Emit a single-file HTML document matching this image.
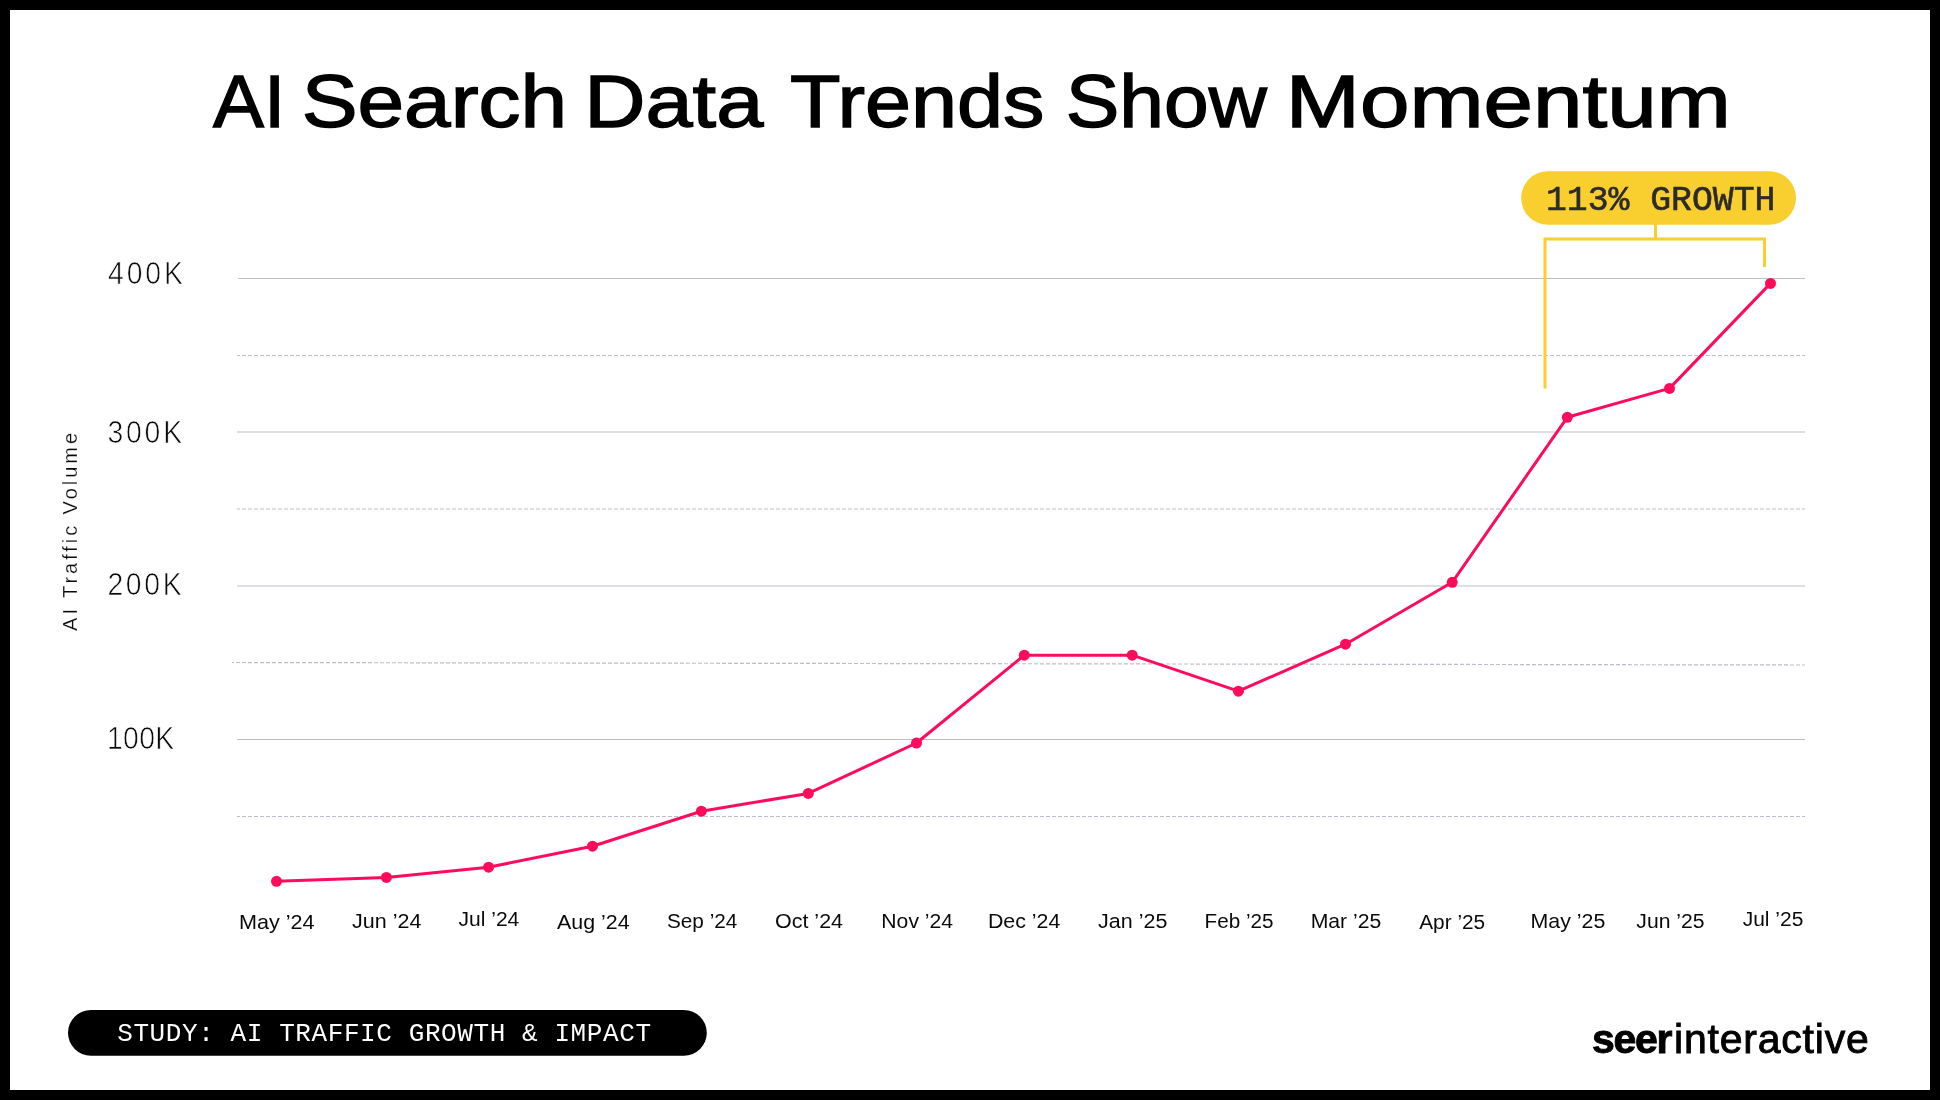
<!DOCTYPE html>
<html>
<head>
<meta charset="utf-8">
<style>
html,body{margin:0;padding:0;}
body{width:1940px;height:1100px;background:#000;position:relative;overflow:hidden;font-family:"Liberation Sans",sans-serif;}
svg{position:absolute;left:0;top:0;will-change:transform;}
</style>
</head>
<body>
<svg width="1940" height="1100" viewBox="0 0 1940 1100">
<rect x="10" y="10" width="1920" height="1080" fill="#fff"/>
<g stroke="#BDBDCB" stroke-width="1.2" fill="none">
<line x1="238" y1="278.5" x2="1805" y2="278.5"/>
<line x1="237" y1="432" x2="1805" y2="432"/>
<line x1="237" y1="586" x2="1805" y2="586"/>
<line x1="237" y1="739.5" x2="1805" y2="739.5"/>
</g>
<g stroke="#BDBDCB" stroke-width="1.2" fill="none" stroke-dasharray="4 2">
<line x1="237" y1="355.5" x2="1805" y2="355.5" stroke-dashoffset="1"/>
<line x1="237" y1="509" x2="1805" y2="509" stroke-dashoffset="1"/>
<line x1="232" y1="662.5" x2="1805" y2="665" stroke-dashoffset="2"/>
<line x1="237" y1="816.5" x2="1805" y2="816.5" stroke-dashoffset="1"/>
</g>
<rect x="1521.2" y="171.2" width="274.8" height="53.6" rx="26.8" fill="#F9CE2F"/>
<g stroke="#F9CE2F" stroke-width="3" fill="none">
<line x1="1655.5" y1="224" x2="1655.5" y2="239"/>
<polyline points="1545,388.6 1545,239 1764.5,239 1764.5,266.9"/>
</g>
<polyline fill="none" stroke="#FC0C5B" stroke-width="3" stroke-linejoin="round" points="276.5,881.3 386.4,877.4 488.6,867.2 592.5,846.2 701.4,811.2 808.3,793.4 916.5,743 1024.3,655.2 1132.2,655.2 1238.4,691.2 1345.5,644.2 1452.2,582.3 1567.3,417.3 1669.5,388.4 1770.5,283.4"/>
<g fill="#FC0C5B">
<circle cx="276.5" cy="881.3" r="5.5"/>
<circle cx="386.4" cy="877.4" r="5.5"/>
<circle cx="488.6" cy="867.2" r="5.5"/>
<circle cx="592.5" cy="846.2" r="5.5"/>
<circle cx="701.4" cy="811.2" r="5.5"/>
<circle cx="808.3" cy="793.4" r="5.5"/>
<circle cx="916.5" cy="743" r="5.5"/>
<circle cx="1024.3" cy="655.2" r="5.5"/>
<circle cx="1132.2" cy="655.2" r="5.5"/>
<circle cx="1238.4" cy="691.2" r="5.5"/>
<circle cx="1345.5" cy="644.2" r="5.5"/>
<circle cx="1452.2" cy="582.3" r="5.5"/>
<circle cx="1567.3" cy="417.3" r="5.5"/>
<circle cx="1669.5" cy="388.4" r="5.5"/>
<circle cx="1770.5" cy="283.4" r="5.5"/>
</g>
<rect x="68" y="1010" width="638.8" height="45.7" rx="22.85" fill="#000"/>
<text transform="translate(213.00,126.80) scale(1.0268,1)" font-family="Liberation Sans" font-size="74.5" font-weight="normal" fill="#000" stroke="#000" stroke-width="1.4">AI</text>
<text transform="translate(301.63,126.80) scale(1.1242,1)" font-family="Liberation Sans" font-size="74.5" font-weight="normal" fill="#000" stroke="#000" stroke-width="1.4">Search</text>
<text transform="translate(584.17,126.80) scale(1.1387,1)" font-family="Liberation Sans" font-size="74.5" font-weight="normal" fill="#000" stroke="#000" stroke-width="1.4">Data</text>
<text transform="translate(789.89,126.80) scale(1.1113,1)" font-family="Liberation Sans" font-size="74.5" font-weight="normal" fill="#000" stroke="#000" stroke-width="1.4">Trends</text>
<text transform="translate(1065.76,126.80) scale(1.0787,1)" font-family="Liberation Sans" font-size="74.5" font-weight="normal" fill="#000" stroke="#000" stroke-width="1.4">Show</text>
<text transform="translate(1285.83,126.80) scale(1.1943,1)" font-family="Liberation Sans" font-size="74.5" font-weight="normal" fill="#000" stroke="#000" stroke-width="1.4">Momentum</text>
<text transform="translate(107.90,283.80) scale(0.9000,1)" font-family="Liberation Sans" font-size="31.5" font-weight="normal" fill="#0a0a0a" letter-spacing="3.296" stroke="#fff" stroke-width="0.7">400K</text>
<text transform="translate(107.40,442.90) scale(0.9000,1)" font-family="Liberation Sans" font-size="31.5" font-weight="normal" fill="#0a0a0a" letter-spacing="3.148" stroke="#fff" stroke-width="0.7">300K</text>
<text transform="translate(107.40,594.70) scale(0.9000,1)" font-family="Liberation Sans" font-size="31.5" font-weight="normal" fill="#0a0a0a" letter-spacing="2.963" stroke="#fff" stroke-width="0.7">200K</text>
<text transform="translate(107.00,748.80) scale(0.9000,1)" font-family="Liberation Sans" font-size="31.5" font-weight="normal" fill="#0a0a0a" letter-spacing="0.370" stroke="#fff" stroke-width="0.7">100K</text>
<text transform="translate(238.93,929.00) scale(1.0655,1)" font-family="Liberation Sans" font-size="20.3" font-weight="normal" fill="#0a0a0a" >May ’24</text>
<text transform="translate(352.00,927.50) scale(1.0596,1)" font-family="Liberation Sans" font-size="20.3" font-weight="normal" fill="#0a0a0a" >Jun ’24</text>
<text transform="translate(458.50,926.00) scale(1.0369,1)" font-family="Liberation Sans" font-size="20.3" font-weight="normal" fill="#0a0a0a" >Jul ’24</text>
<text transform="translate(557.00,928.80) scale(1.0539,1)" font-family="Liberation Sans" font-size="20.3" font-weight="normal" fill="#0a0a0a" >Aug ’24</text>
<text transform="translate(667.00,928.10) scale(1.0218,1)" font-family="Liberation Sans" font-size="20.3" font-weight="normal" fill="#0a0a0a" >Sep ’24</text>
<text transform="translate(775.00,927.50) scale(1.0583,1)" font-family="Liberation Sans" font-size="20.3" font-weight="normal" fill="#0a0a0a" >Oct ’24</text>
<text transform="translate(881.36,928.10) scale(1.0417,1)" font-family="Liberation Sans" font-size="20.3" font-weight="normal" fill="#0a0a0a" >Nov ’24</text>
<text transform="translate(987.95,928.30) scale(1.0521,1)" font-family="Liberation Sans" font-size="20.3" font-weight="normal" fill="#0a0a0a" >Dec ’24</text>
<text transform="translate(1098.00,927.80) scale(1.0596,1)" font-family="Liberation Sans" font-size="20.3" font-weight="normal" fill="#0a0a0a" >Jan ’25</text>
<text transform="translate(1204.48,927.80) scale(1.0201,1)" font-family="Liberation Sans" font-size="20.3" font-weight="normal" fill="#0a0a0a" >Feb ’25</text>
<text transform="translate(1310.66,928.30) scale(1.0445,1)" font-family="Liberation Sans" font-size="20.3" font-weight="normal" fill="#0a0a0a" >Mar ’25</text>
<text transform="translate(1419.20,929.00) scale(1.0269,1)" font-family="Liberation Sans" font-size="20.3" font-weight="normal" fill="#0a0a0a" >Apr ’25</text>
<text transform="translate(1530.55,927.80) scale(1.0526,1)" font-family="Liberation Sans" font-size="20.3" font-weight="normal" fill="#0a0a0a" >May ’25</text>
<text transform="translate(1636.30,927.50) scale(1.0442,1)" font-family="Liberation Sans" font-size="20.3" font-weight="normal" fill="#0a0a0a" >Jun ’25</text>
<text transform="translate(1742.70,925.50) scale(1.0335,1)" font-family="Liberation Sans" font-size="20.3" font-weight="normal" fill="#0a0a0a" >Jul ’25</text>
<text transform="translate(1545.91,210.10) scale(0.9941,1)" font-family="Liberation Mono" font-size="35" font-weight="normal" fill="#2b2b2e" stroke="#2b2b2e" stroke-width="0.6">113% GROWTH</text>
<text transform="translate(117.20,1041.20) scale(1.0000,1)" font-family="Liberation Mono" font-size="26" font-weight="normal" fill="#fff" letter-spacing="0.591" >STUDY: AI TRAFFIC GROWTH &amp; IMPACT</text>
<text transform="translate(1591.90,1052.50) scale(1.0000,1)" font-family="Liberation Sans" font-size="41" font-weight="bold" fill="#000" letter-spacing="-1.269" stroke="#000" stroke-width="0.9">seer</text>
<text transform="translate(1674.10,1052.50) scale(1.0000,1)" font-family="Liberation Sans" font-size="41" font-weight="normal" fill="#000" letter-spacing="0.774" stroke="#000" stroke-width="0.9">interactive</text>
<text transform="translate(76.8,630.9) rotate(-90)" font-family="Liberation Sans" font-size="20" fill="#0a0a0a" letter-spacing="2.947" stroke="#fff" stroke-width="0.2">AI Traffic Volume</text>
</svg>
</body>
</html>
